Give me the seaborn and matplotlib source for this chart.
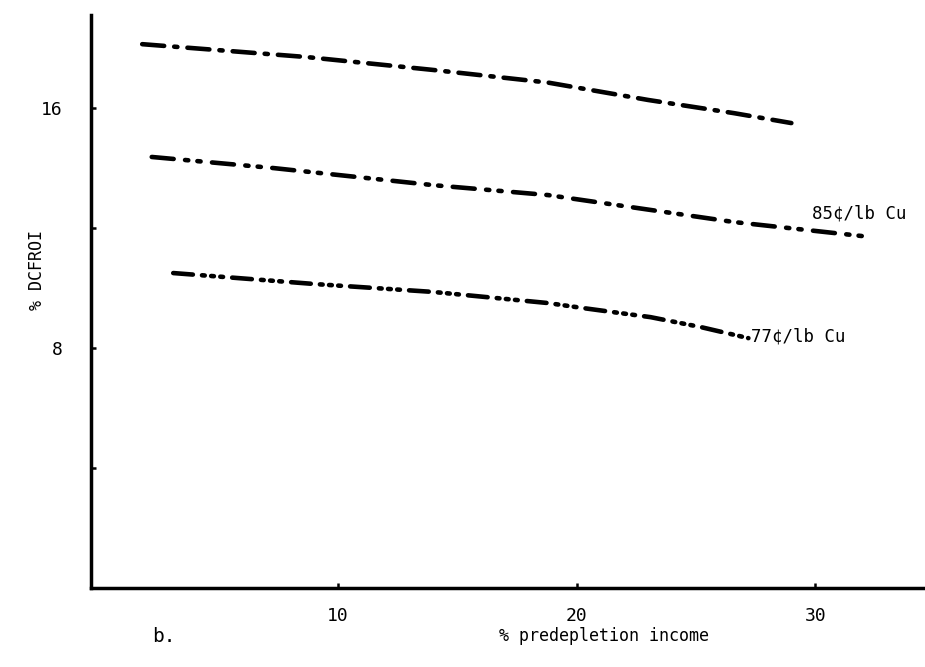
import matplotlib
matplotlib.use("Agg")
import matplotlib.pyplot as plt
import seaborn as sns
import pandas as pd

# data
top_x = [1.8, 8.7, 14.0, 18.8, 23.0, 26.6, 29.0]
top_y = [18.13, 17.7, 17.27, 16.85, 16.27, 15.83, 15.5]
mid_x = [2.2, 7.3, 14.0, 18.8, 26.6, 32.0]
mid_y = [14.37, 14.0, 13.43, 13.1, 12.2, 11.73]
bot_x = [3.1, 9.1, 14.0, 18.8, 20.3, 23.1, 25.2, 27.2]
bot_y = [10.5, 10.13, 9.87, 9.5, 9.33, 9.03, 8.7, 8.33]
x_ticks = [10, 20, 30]
y_ticks = [4, 8, 12, 16]
y_tick_labels = ["", "8", "", "16"]
label_mid = "85¢/lb Cu"
label_bot = "77¢/lb Cu"

sns.set_style("white")
plt.rcParams['font.family'] = ['DejaVu Sans Mono', 'DejaVu Sans']
plt.rcParams['text.color'] = 'black'

fig = plt.figure(figsize=(9.25, 6.67), dpi=100)
ax = fig.add_axes([0.098, 0.1184, 0.902, 0.859])

series = [
    (top_x, top_y, (0, (4.8, 2.2, 0.7, 2.2))),
    (mid_x, mid_y, (0, (4.8, 2.5, 0.7, 2.0, 0.7, 2.5))),
    (bot_x, bot_y, (0, (4.3, 2.0, 0.6, 1.4, 0.6, 1.4, 0.6, 2.0))),
]
for xs, ys, ls in series:
    df = pd.DataFrame({"x": xs, "y": ys})
    sns.lineplot(data=df, x="x", y="y", ax=ax, color="black", linewidth=3.3,
                 sort=False, estimator=None)
    ln = ax.lines[-1]
    ln.set_linestyle(ls)
    ln.set_dash_capstyle("round")

ax.text(29.85, 12.5, label_mid, fontsize=12.5, ha="left", va="center", color="black")
ax.text(27.3, 8.37, label_bot, fontsize=12.5, ha="left", va="center", color="black")

ax.set_xlim(-0.36, 34.6)
ax.set_ylim(0, 19.1)
ax.set_xticks(x_ticks)
ax.set_xticklabels([str(t) for t in x_ticks])
ax.set_yticks(y_ticks)
ax.set_yticklabels(y_tick_labels)
ax.tick_params(axis="both", direction="in", length=3.5, width=1.8, labelsize=13,
               colors="black", bottom=True, left=True)
ax.tick_params(axis="x", pad=14)
ax.tick_params(axis="y", pad=20)
for s in ["top", "right"]:
    ax.spines[s].set_visible(False)
for s in ["left", "bottom"]:
    ax.spines[s].set_linewidth(2.5)
    ax.spines[s].set_color("black")
ax.set_xlabel("")
ax.set_ylabel("")

fig.text(0.04, 0.595, "% DCFROI", rotation=90, fontsize=12, ha="center", va="center", color="black")
fig.text(0.653, 0.046, "% predepletion income", fontsize=12, ha="center", va="center", color="black")
fig.text(0.177, 0.046, "b.", fontsize=14, ha="center", va="center", color="black")

fig.savefig("out.png", dpi=100)
